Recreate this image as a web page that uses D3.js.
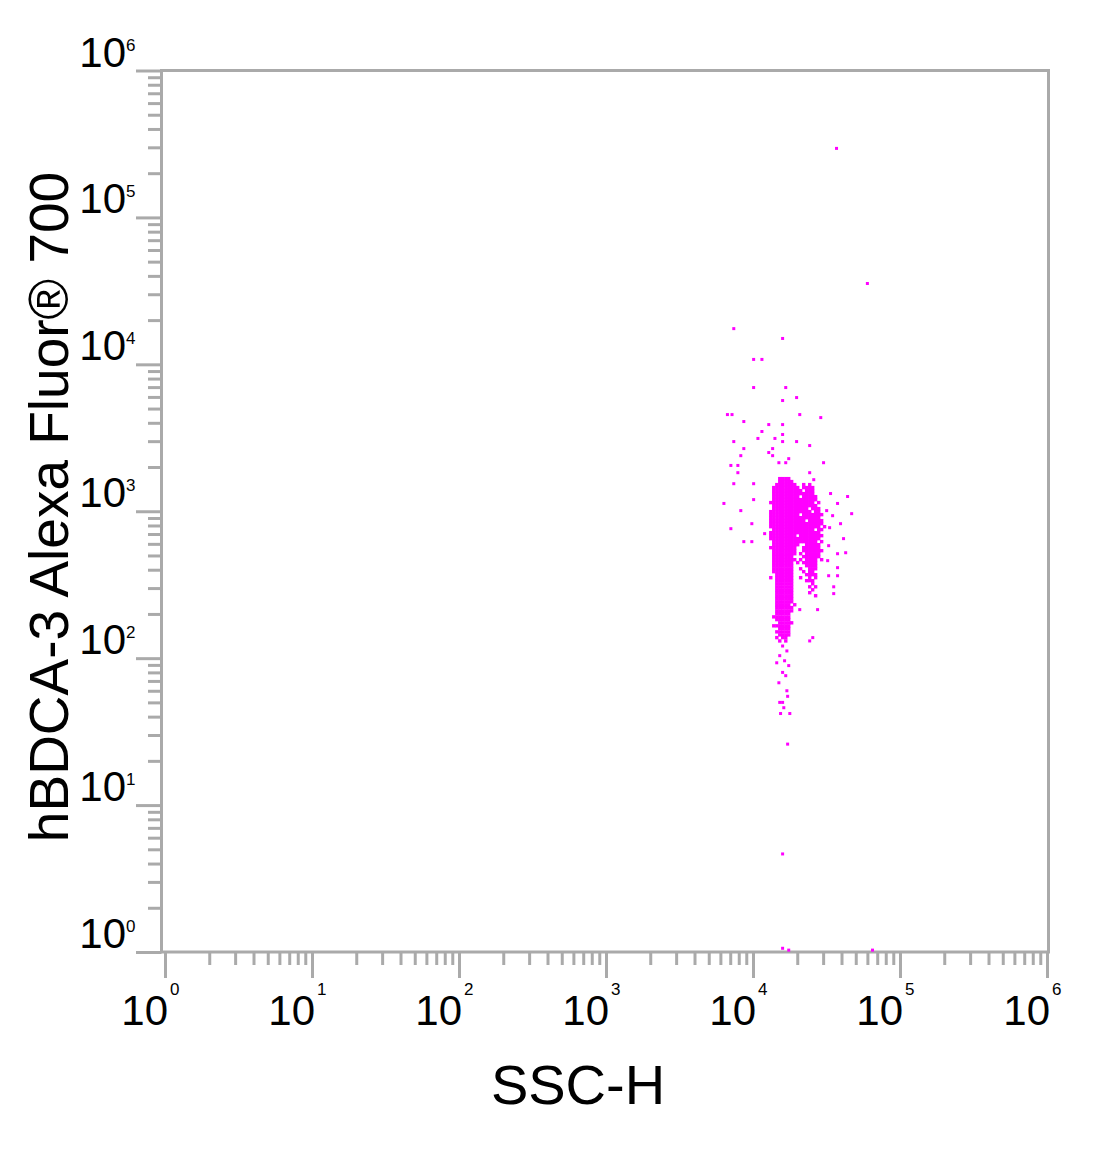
<!DOCTYPE html>
<html><head><meta charset="utf-8">
<script src="https://cdn.jsdelivr.net/npm/d3@7"></script>
<style>body{margin:0;background:#fff}svg{display:block}</style>
</head><body>
<svg id="chart" width="1100" height="1166"></svg>
<script>
// ---- axis / tick data ----
const majorTicks = [1, 10, 100, 1000, 10000, 100000, 1000000];
const tickBase = "10";
const tickExponents = ["0", "1", "2", "3", "4", "5", "6"];
const minorMultipliers = [2, 3, 4, 5, 6, 7, 8, 9];
const xTitle = "SSC-H";
const yTitle = "hBDCA-3 Alexa Fluor\u00AE 700";

// ---- dense core of the population: SSC bins and rows of fluorescence ----
const denseSSC = [13210, 13840, 14520, 15210, 15920, 16710, 17500, 18320, 19230, 20140,
                  21090, 22130, 23170, 24320, 25470, 26670, 27990, 29310, 30690];
const denseFluor = [1667, 1592, 1518, 1449, 1381, 1318, 1257, 1199, 1145, 1092, 1042, 994, 948, 904,
                    863, 823, 785, 750, 715, 682, 651, 621, 592, 565, 539, 514, 491, 468, 447, 426,
                    406, 388, 370, 353, 337, 321, 306, 292, 279, 266, 254, 242, 231, 221, 210, 201,
                    191, 183, 174, 166, 159, 151, 144, 138, 131];
const denseCells = [
  [3,4,5,6],
  [3,4,5,6,7],
  [2,3,4,5,6,7,8,11,13],
  [1,2,3,4,5,6,7,8,9,11,12,13,14],
  [1,2,3,4,5,6,7,8,9,10,12,13,14],
  [1,2,3,4,5,6,7,8,9,10,11,12,13,14],
  [1,2,3,4,5,6,7,8,9,11,12,13,14,15],
  [1,2,3,4,5,6,7,8,9,10,11,12,13,14,15],
  [0,1,2,3,4,5,6,7,8,9,10,11,12,13,14,16],
  [1,2,3,4,5,6,7,8,9,10,11,12,13,14,15],
  [1,2,3,4,5,6,7,8,9,10,11,12,14,15,16],
  [0,1,2,3,4,5,6,7,8,9,10,11,12,13,15,16],
  [0,1,2,3,4,5,6,7,8,9,11,12,13,14,15,16,17],
  [0,1,2,3,4,5,6,7,8,9,10,11,12,13,14,15,16],
  [0,1,2,3,4,5,6,7,8,9,10,11,13,14,15,16,17],
  [0,1,2,3,4,5,6,7,8,9,10,11,12,13,14,15,16,17],
  [0,1,2,3,4,5,6,7,8,9,10,11,12,13,14,15,16,18],
  [1,2,3,4,5,6,7,8,9,10,11,12,13,14,16,17],
  [0,1,2,3,4,5,6,7,8,9,10,11,12,13,14,15,16],
  [0,1,2,3,4,5,6,7,8,10,11,12,13,14,15,16,17],
  [0,1,2,3,4,5,6,7,8,9,10,11,12,13,14,15,16],
  [1,2,3,4,5,6,7,8,9,10,11,12,13,14,15,17],
  [1,2,3,4,5,6,7,8,9,12,13,14,15,16],
  [0,1,2,3,4,5,6,7,8,11,12,13,14,15,16],
  [1,2,3,4,5,6,7,8,11,12,13,14,15,16,17],
  [1,2,3,4,5,6,7,8,10,12,13,14,15,16],
  [1,2,3,4,5,6,7,11,12,13,14,15,16],
  [1,2,3,4,5,6,7,8,10,12,13,14,15,17],
  [1,2,3,4,5,6,7,9,11,12,13,14,15],
  [1,2,3,4,5,6,7,12,13,14,15],
  [1,2,3,4,5,6,7,10,13,14,15],
  [1,2,3,4,5,6,7,11,13,14],
  [2,3,4,5,6,7,12,13,14,15],
  [0,2,3,4,5,6,7,10,13,15],
  [2,3,4,5,6,7,12,13,14],
  [2,3,4,5,6,7,14],
  [2,3,4,5,6,7,13,15],
  [2,3,4,5,6,7,14],
  [2,3,4,5,6,7,13],
  [2,3,4,5,6,7,15],
  [2,3,4,5,6,7],
  [2,3,4,5,6,7],
  [2,3,4,5,6,8],
  [2,3,4,5,6,7],
  [2,3,4,5,6,7],
  [2,3,4,5,6],
  [1,2,3,4,5,6],
  [2,3,4,5,6],
  [3,4,5,6,7],
  [1,2,3,4,5,6],
  [3,4,5,6],
  [2,3,4,5,6],
  [3,4,5,6],
  [2,4,5],
  [3,5]
];

// ---- sparse events around the population ----
const sparseSSC = [37000, 60000, 7400, 15900, 10100, 11500, 10100, 16700, 15900, 19800,
  6700, 7200, 8660, 20800, 28900, 12800, 15900, 11500, 15900, 10800,
  14100, 7400, 15900, 19800, 24300, 8660, 13600, 8260, 12800, 13600,
  17500, 7070, 7890, 15000, 16700, 30200, 7890, 24300, 25900, 7400,
  10100, 33700, 44000, 37600, 6340, 10100, 46900, 34800, 8260, 39400,
  9820, 7070, 12000, 41300, 8660, 9820, 42700, 37600, 37600, 37600,
  35400, 35400, 27500, 20800, 25500, 24300, 31700, 33200, 32700, 32200,
  32700, 15900, 17000, 15200, 16400, 14500, 17500, 15900, 16700, 15000,
  17000, 17200, 15200, 15900, 16200, 15400, 17800, 17200, 15900, 15900,
  17500, 65000];
const sparseFluor = [295000, 35500, 17500, 15000, 10800, 10800, 6950, 6950, 5670, 5940,
  4550, 4550, 4080, 4550, 4340, 3890, 3890, 3490, 3330, 3130,
  3130, 2980, 2980, 2980, 2800, 2670, 2670, 2390, 2510, 2390,
  2280, 2050, 2050, 2140, 2140, 2140, 1830, 1830, 1640, 1540,
  1540, 1320, 1260, 1130, 1130, 1200, 963, 933, 1010, 823,
  823, 761, 704, 651, 621, 621, 522, 514, 413, 364,
  306, 275, 214, 214, 138, 131, 1010, 773, 583, 461,
  364, 121, 112, 104, 96, 93, 89, 80, 76, 68,
  60, 55, 50, 50, 46, 42, 42, 26, 4.65, 1.06,
  1.03, 1.03];

// ---- drawing ----
const svg = d3.select("#chart");
const axisColor = "#aaaaaa";
const font = "'Liberation Sans', Arial, Helvetica, sans-serif";

const x = d3.scaleLog().domain([1, 1e6]).range([165, 1047]);
const y = d3.scaleLog().domain([1, 1e6]).range([952, 70.5]);

const minorTicks = [];
majorTicks.slice(0, -1).forEach(m => minorMultipliers.forEach(k => minorTicks.push(m * k)));

function styleAxis(g) {
  g.select(".domain").remove();
  g.selectAll("line").attr("stroke", axisColor).attr("stroke-width", 3);
}

// frame
svg.append("rect")
  .attr("x", 161.5).attr("y", 70.5)
  .attr("width", 1048.5 - 161.5).attr("height", 952 - 70.5)
  .attr("fill", "none").attr("stroke", axisColor).attr("stroke-width", 3);

// x axis ticks
svg.append("g").attr("transform", "translate(0,952)")
  .call(d3.axisBottom(x).tickValues(majorTicks).tickSize(26).tickFormat(""))
  .call(styleAxis);
svg.append("g").attr("transform", "translate(0,952)")
  .call(d3.axisBottom(x).tickValues(minorTicks).tickSize(13).tickFormat(""))
  .call(styleAxis);

// y axis ticks
svg.append("g").attr("transform", "translate(161.5,0)")
  .call(d3.axisLeft(y).tickValues(majorTicks).tickSize(25.5).tickFormat(""))
  .call(styleAxis);
svg.append("g").attr("transform", "translate(161.5,0)")
  .call(d3.axisLeft(y).tickValues(minorTicks).tickSize(13.5).tickFormat(""))
  .call(styleAxis);

// x tick labels
const xl = svg.append("g").attr("font-family", font).attr("fill", "#000");
majorTicks.forEach((v, i) => {
  xl.append("text").attr("x", x(v) + 3).attr("y", 1025)
    .attr("text-anchor", "end").attr("font-size", 42).text(tickBase);
  xl.append("text").attr("x", x(v) + 5).attr("y", 995)
    .attr("text-anchor", "start").attr("font-size", 17).text(tickExponents[i]);
});

// y tick labels
const yl = svg.append("g").attr("font-family", font).attr("fill", "#000");
majorTicks.forEach((v, i) => {
  yl.append("text").attr("x", 126).attr("y", y(v) - 4)
    .attr("text-anchor", "end").attr("font-size", 42).text(tickBase);
  yl.append("text").attr("x", 126).attr("y", y(v) - 20)
    .attr("text-anchor", "start").attr("font-size", 17).text(tickExponents[i]);
});

// axis titles
svg.append("text").attr("x", 578).attr("y", 1104)
  .attr("text-anchor", "middle").attr("font-family", font).attr("font-size", 56)
  .attr("fill", "#000").text(xTitle);
svg.append("text").attr("transform", "translate(68,507) rotate(-90)")
  .attr("text-anchor", "middle").attr("font-family", font).attr("font-size", 55)
  .attr("fill", "#000").text(yTitle);

// events
const events = [];
denseFluor.forEach((f, r) => denseCells[r].forEach(c => events.push([denseSSC[c], f, 3.4])));
sparseSSC.forEach((s, i) => events.push([s, sparseFluor[i], 3]));

svg.append("g").selectAll("rect").data(events).join("rect")
  .attr("x", d => x(d[0]) - d[2] / 2)
  .attr("y", d => y(d[1]) - d[2] / 2)
  .attr("width", d => d[2]).attr("height", d => d[2])
  .attr("fill", "#ff00ff");
</script>
</body></html>
